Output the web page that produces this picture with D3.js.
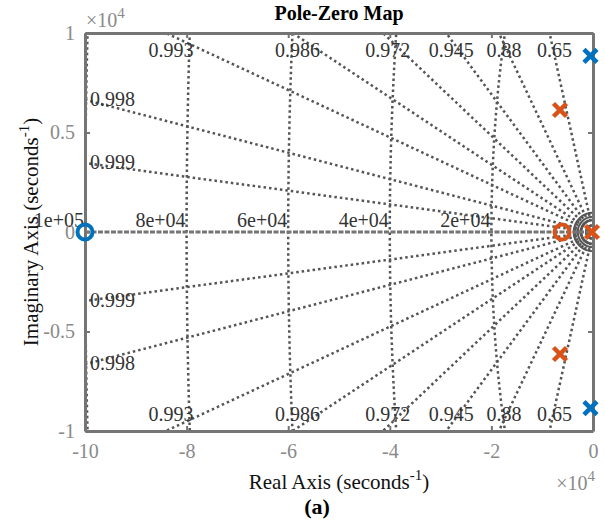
<!DOCTYPE html>
<html>
<head>
<meta charset="utf-8">
<script src="https://cdn.jsdelivr.net/npm/d3@7"></script>
<style>
  body { margin: 0; background: #fff; }
  text { font-family: "Liberation Serif", "Times New Roman", serif; }
</style>
</head>
<body>
<div id="chart"></div>
<script>
// damping grid (zeta) and natural frequency grid (wn)
const zetaValues = [0.9994, 0.9978, 0.993, 0.986, 0.972, 0.945, 0.88, 0.65];
const zetaLabels = ['0.999', '0.998', '0.993', '0.986', '0.972', '0.945', '0.88', '0.65'];
const wnValues = [20000, 40000, 60000, 80000, 100000];
const wnLabels = ['2e+04', '4e+04', '6e+04', '8e+04', '1e+05'];
const wnSmall = [3800, 3000, 2300]; // unlabelled arcs near the origin

const xTicks = [-10, -8, -6, -4, -2, 0];      // x 1e4
const yTicks = [-1, -0.5, 0, 0.5, 1];         // x 1e4

// zeros
const zeroRe = [-100000, -6100];
const zeroIm = [0, 0];
const zeroSys = ['a', 'b'];
// poles
const poleRe = [-500, -500, -6500, -6500, -200];
const poleIm = [8850, -8850, 6130, -6130, 0];
const poleSys = ['a', 'a', 'b', 'b', 'b'];

const colors = { a: '#0072BD', b: '#D95319' };

const W = 605, H = 524;
const margin = { left: 85, right: 12, top: 33, bottom: 93 };
const axisGray = '#757575', gridGray = '#555', tickGray = '#8a8a8a';
const hy = v => (v + '').replace('\u2212', '-');

const svg = d3.select('#chart').append('svg')
  .attr('width', W).attr('height', H);

const x = d3.scaleLinear().domain([-100000, 0]).range([margin.left, W - margin.right]);
const y = d3.scaleLinear().domain([-10000, 10000]).range([H - margin.bottom, margin.top]);

svg.append('clipPath').attr('id', 'clip')
  .append('rect')
  .attr('x', x(-100000)).attr('y', y(10000))
  .attr('width', x(0) - x(-100000)).attr('height', y(-10000) - y(10000));

const grid = svg.append('g').attr('clip-path', 'url(#clip)');

// damping lines
zetaValues.forEach(z => {
  const t = Math.sqrt(1 - z * z) / z;
  const far = 1e7;
  [1, -1].forEach(s => {
    grid.append('line')
      .attr('x1', x(0)).attr('y1', y(0))
      .attr('x2', x(-far)).attr('y2', y(s * far * t))
      .attr('stroke', gridGray).attr('stroke-width', 2.5)
      .attr('stroke-dasharray', '2.5,3');
  });
});

// natural frequency curves
const arc = d3.line().x(d => x(d[0])).y(d => y(d[1]));
wnValues.forEach(wn => {
  const pts = d3.range(-90, 90.01, 0.25).map(a => {
    const r = a * Math.PI / 180;
    return [-wn * Math.cos(r), wn * Math.sin(r)];
  });
  grid.append('path').attr('d', arc(pts))
    .attr('fill', 'none').attr('stroke', gridGray).attr('stroke-width', 2.5)
    .attr('stroke-dasharray', '2.5,3');
});

// small arcs near origin (drawn round in screen space)
wnSmall.forEach(wn => {
  const r = x(0) - x(-wn);
  grid.append('path')
    .attr('d', `M${x(0)},${y(0) - r} A${r},${r} 0 0 0 ${x(0)},${y(0) + r}`)
    .attr('fill', 'none').attr('stroke', gridGray).attr('stroke-width', 2);
});

// real axis
grid.append('line')
  .attr('x1', x(-100000)).attr('x2', x(0)).attr('y1', y(0)).attr('y2', y(0))
  .attr('stroke', axisGray).attr('stroke-width', 3)
  .attr('stroke-dasharray', '5,1.5');

// damping labels
const lbl = svg.append('g').attr('fill', '#333').attr('font-size', 20);
zetaValues.forEach((z, i) => {
  const t = Math.sqrt(1 - z * z) / z;
  const xTop = -10000 / t;
  if (xTop >= -100000) {
    lbl.append('text').attr('x', x(xTop) + 5).attr('y', y(10000) + 24)
      .attr('text-anchor', 'middle').text(zetaLabels[i]);
    lbl.append('text').attr('x', x(xTop) + 5).attr('y', y(-10000) - 10)
      .attr('text-anchor', 'middle').text(zetaLabels[i]);
  } else {
    const yEdge = 100000 * t;
    [1, -1].forEach(s => {
      lbl.append('text').attr('x', x(-100000) + 5).attr('y', y(s * yEdge) + 6)
        .attr('text-anchor', 'start').text(zetaLabels[i]);
    });
  }
});

// natural frequency labels
wnValues.forEach((wn, i) => {
  lbl.append('text').attr('x', x(-wn) - 1).attr('y', y(0) - 5)
    .attr('text-anchor', 'end').text(wnLabels[i]);
});

// axes box
const xAxisB = d3.axisBottom(x).tickValues(xTicks.map(v => v * 1e4))
  .tickFormat(v => hy(v / 1e4)).tickSizeInner(-5).tickSizeOuter(0).tickPadding(13);
const xAxisT = d3.axisTop(x).tickValues(xTicks.map(v => v * 1e4))
  .tickFormat('').tickSizeInner(-5).tickSizeOuter(0);
const yAxisL = d3.axisLeft(y).tickValues(yTicks.map(v => v * 1e4))
  .tickFormat(v => hy(v / 1e4)).tickSizeInner(-5).tickSizeOuter(0).tickPadding(10);
const yAxisR = d3.axisRight(y).tickValues(yTicks.map(v => v * 1e4))
  .tickFormat('').tickSizeInner(-5).tickSizeOuter(0);

function styleAxis(g) {
  g.select('.domain').attr('stroke', axisGray).attr('stroke-width', 3);
  g.selectAll('.tick line').attr('stroke', axisGray).attr('stroke-width', 2);
  g.selectAll('.tick text').attr('fill', tickGray).attr('font-size', 20)
    .attr('font-family', '"Liberation Serif", serif');
}
svg.append('g').attr('transform', `translate(0,${y(-10000)})`).call(xAxisB).call(styleAxis);
svg.append('g').attr('transform', `translate(0,${y(10000)})`).call(xAxisT).call(styleAxis);
svg.append('g').attr('transform', `translate(${x(-100000)},0)`).call(yAxisL).call(styleAxis);
svg.append('g').attr('transform', `translate(${x(0)},0)`).call(yAxisR).call(styleAxis);

// zeros: open circles
svg.append('g').selectAll('circle')
  .data(zeroRe.map((re, i) => ({ re, im: zeroIm[i], s: zeroSys[i] })))
  .enter().append('circle')
  .attr('cx', d => x(d.re)).attr('cy', d => y(d.im)).attr('r', 7.5)
  .attr('fill', 'none').attr('stroke', d => colors[d.s]).attr('stroke-width', 4);

// poles: crosses
const crossSize = 6.5;
svg.append('g').selectAll('path')
  .data(poleRe.map((re, i) => ({ re, im: poleIm[i], s: poleSys[i] })))
  .enter().append('path')
  .attr('d', d => {
    const cx = x(d.re), cy = y(d.im), k = crossSize;
    return `M${cx - k},${cy - k}L${cx + k},${cy + k}M${cx - k},${cy + k}L${cx + k},${cy - k}`;
  })
  .attr('stroke', d => colors[d.s]).attr('stroke-width', 4.5).attr('fill', 'none');

// exponent labels
function expLabel(px, py, anchor) {
  const t = svg.append('text').attr('x', px).attr('y', py).attr('fill', tickGray)
    .attr('font-size', 20).attr('text-anchor', anchor);
  t.append('tspan').text('\u00d710');
  t.append('tspan').attr('dy', -9).attr('font-size', 15).text('4');
}
expLabel(x(-100000) + 1, 27, 'start');
expLabel(x(0) + 2, 490, 'end');

// title and axis labels
svg.append('text').attr('x', (x(-100000) + x(0)) / 2).attr('y', 20)
  .attr('text-anchor', 'middle').attr('font-weight', 'bold').attr('font-size', 20)
  .text('Pole-Zero Map');

const xl = svg.append('text').attr('x', (x(-100000) + x(0)) / 2).attr('y', 489)
  .attr('text-anchor', 'middle').attr('font-size', 21).attr('fill', '#111');
xl.append('tspan').text('Real Axis (seconds');
xl.append('tspan').attr('dy', -9).attr('font-size', 15).text('-1');
xl.append('tspan').attr('dy', 9).text(')');

const yl = svg.append('text')
  .attr('transform', `translate(38,${y(0)}) rotate(-90)`)
  .attr('text-anchor', 'middle').attr('font-size', 21).attr('fill', '#111');
yl.append('tspan').text('Imaginary Axis (seconds');
yl.append('tspan').attr('dy', -9).attr('font-size', 15).text('-1');
yl.append('tspan').attr('dy', 9).text(')');

svg.append('text').attr('x', 317).attr('y', 514)
  .attr('text-anchor', 'middle').attr('font-weight', 'bold').attr('font-size', 22)
  .text('(a)');
</script>
</body>
</html>
